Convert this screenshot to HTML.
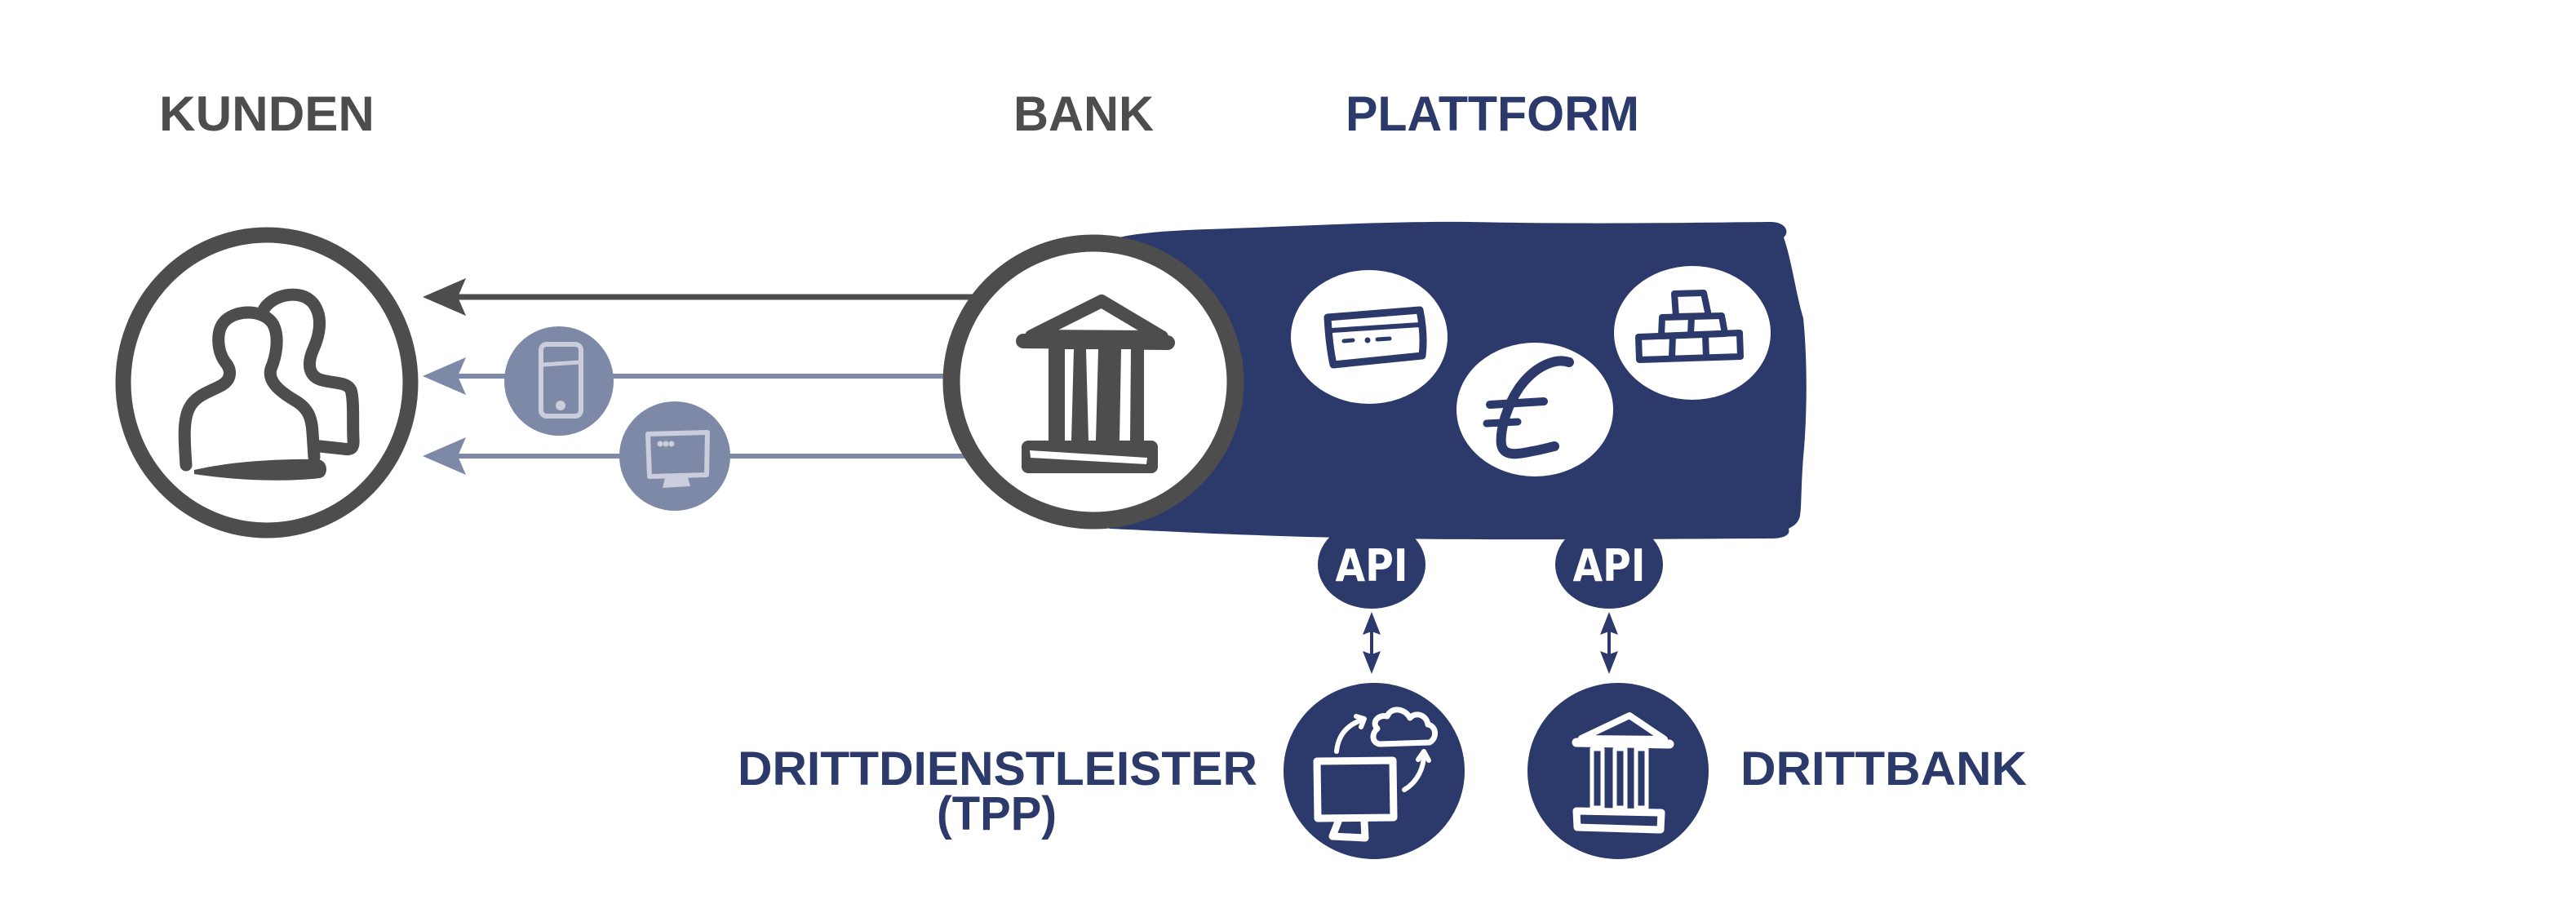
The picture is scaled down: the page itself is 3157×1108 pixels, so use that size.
<!DOCTYPE html>
<html>
<head>
<meta charset="utf-8">
<style>
  html, body { margin: 0; padding: 0; background: #ffffff; }
  body { width: 3157px; height: 1108px; overflow: hidden; }
  svg { display: block; }
  .lbl { font-family: "Liberation Sans", "DejaVu Sans", sans-serif; font-weight: 700; }
</style>
</head>
<body>
<svg width="3157" height="1108" viewBox="0 0 3157 1108" xmlns="http://www.w3.org/2000/svg">
  <rect width="3157" height="1108" fill="#ffffff"/>

  <!-- Headings -->
  <text class="lbl" x="195" y="160" font-size="60" fill="#4d4d4d" textLength="264" lengthAdjust="spacingAndGlyphs">KUNDEN</text>
  <text class="lbl" x="1242" y="160" font-size="60" fill="#4d4d4d" textLength="172" lengthAdjust="spacingAndGlyphs">BANK</text>
  <text class="lbl" x="1649" y="160" font-size="60" fill="#2c3a6b" textLength="360" lengthAdjust="spacingAndGlyphs">PLATTFORM</text>

  <!-- Arrows from bank to customers -->
  <line x1="560" y1="364" x2="1200" y2="364" stroke="#4d4d4d" stroke-width="7"/>
  <polygon points="518,364 571,341 561,364 571,387" fill="#4d4d4d"/>
  <line x1="560" y1="461" x2="1200" y2="461" stroke="#7e88a7" stroke-width="6"/>
  <polygon points="518,461 571,438 561,461 571,484" fill="#7e88a7"/>
  <line x1="560" y1="559" x2="1200" y2="559" stroke="#7e88a7" stroke-width="6"/>
  <polygon points="518,559 571,536 561,559 571,582" fill="#7e88a7"/>

  <!-- Phone bubble -->
  <ellipse cx="685" cy="467" rx="67" ry="67" fill="#7e88a7"/>
  <rect x="663" y="422" width="49" height="88" rx="7" fill="none" stroke="#c9cddc" stroke-width="6"/>
  <line x1="665" y1="447" x2="710" y2="444" stroke="#c9cddc" stroke-width="5"/>
  <circle cx="687" cy="497" r="6" fill="#c9cddc"/>

  <!-- Monitor bubble -->
  <ellipse cx="827" cy="559" rx="68" ry="67" fill="#7e88a7"/>
  <path d="M794 532 L867 530 L866 582 L796 584 Z" fill="none" stroke="#c9cddc" stroke-width="6" stroke-linejoin="round"/>
  <circle cx="809" cy="544" r="3.5" fill="#c9cddc"/>
  <circle cx="816" cy="544" r="3.5" fill="#c9cddc"/>
  <circle cx="823" cy="544" r="3.5" fill="#c9cddc"/>
  <polygon points="815,585 843,585 846,596 812,598" fill="#c9cddc"/>

  <!-- Kunden circle -->
  <ellipse cx="327" cy="469" rx="176" ry="181" fill="#ffffff" stroke="#4d4d4d" stroke-width="19"/>
  <!-- persons -->
  <g fill="none" stroke="#4d4d4d" stroke-width="15" stroke-linecap="round" stroke-linejoin="round">
    <path d="M322 382 C330 362 368 352 384 372 C396 388 392 410 384 428 C376 446 378 462 395 466 C410 470 425 468 430 478 C434 490 432 520 433 538 C434 550 430 552 420 550 L392 547"/>
    <path d="M228 570 C226 540 224 515 232 500 C240 484 258 480 272 472 C285 464 283 452 276 444 C266 430 264 405 276 393 C292 378 325 380 335 398 C343 414 338 438 332 452 C328 466 340 478 360 490 C378 500 382 512 383 530 L385 560"/>
  </g>
  <path d="M238 576 C280 566 340 562 390 563 C403 565 403 584 392 586 C350 591 290 589 238 581 Z" fill="#4d4d4d"/>

  <!-- Platform navy block -->
  <path d="M1345 300 C1370 287 1420 283 1480 281 C1600 277 1700 271 1800 272 C1950 275 2050 273 2170 272 C2188 272 2194 284 2186 291 C2196 320 2201 360 2210 390 C2216 450 2214 520 2210 560 C2207 600 2208 620 2206 632 C2204 642 2197 645 2192 648 C2195 656 2185 660 2170 660 C2000 661 1800 662 1700 660 C1550 658 1450 652 1360 648 L1345 640 Z" fill="#2c3a6b"/>

  <!-- API bubbles -->
  <ellipse cx="1681" cy="692" rx="66" ry="54" fill="#2c3a6b"/>
  <ellipse cx="1972" cy="692" rx="66" ry="54" fill="#2c3a6b"/>
  <text x="1681" y="712" font-family="'DejaVu Sans', 'Liberation Sans', sans-serif" font-weight="700" font-size="54" fill="#ffffff" text-anchor="middle" textLength="89" lengthAdjust="spacingAndGlyphs">API</text>
  <text x="1972" y="712" font-family="'DejaVu Sans', 'Liberation Sans', sans-serif" font-weight="700" font-size="54" fill="#ffffff" text-anchor="middle" textLength="89" lengthAdjust="spacingAndGlyphs">API</text>

  <!-- White blobs on platform -->
  <ellipse cx="1678" cy="413" rx="96" ry="82" fill="#ffffff"/>
  <ellipse cx="1881" cy="502" rx="96" ry="82" fill="#ffffff"/>
  <ellipse cx="2074" cy="408" rx="96" ry="82" fill="#ffffff"/>

  <!-- Card icon -->
  <path d="M1627 389 L1740 380 C1744 400 1745 420 1743 436 L1634 447 C1630 428 1628 408 1627 389 Z" fill="none" stroke="#2c3a6b" stroke-width="9" stroke-linejoin="round"/>
  <line x1="1632" y1="405" x2="1740" y2="398" stroke="#2c3a6b" stroke-width="6"/>
  <line x1="1647" y1="418" x2="1658" y2="417" stroke="#2c3a6b" stroke-width="5" stroke-linecap="round"/>
  <circle cx="1676" cy="417" r="3.5" fill="#2c3a6b"/>
  <line x1="1688" y1="416" x2="1703" y2="415" stroke="#2c3a6b" stroke-width="5" stroke-linecap="round"/>

  <!-- Euro icon -->
  <path d="M1923 444 C1905 438 1880 450 1862 475 C1845 500 1838 530 1840 545 C1843 560 1860 557 1878 553 C1890 551 1900 548 1905 547" fill="none" stroke="#2c3a6b" stroke-width="12" stroke-linecap="round"/>
  <line x1="1826" y1="496" x2="1892" y2="492" stroke="#2c3a6b" stroke-width="10" stroke-linecap="round"/>
  <line x1="1822" y1="519" x2="1860" y2="517" stroke="#2c3a6b" stroke-width="9" stroke-linecap="round"/>

  <!-- Blocks icon -->
  <g fill="none" stroke="#2c3a6b" stroke-width="8" stroke-linejoin="round">
    <path d="M2008 413 L2132 408 L2133 437 L2009 441 Z"/>
    <line x1="2050" y1="411" x2="2049" y2="439"/>
    <line x1="2090" y1="410" x2="2091" y2="438"/>
    <path d="M2037 389 L2110 387 L2114 409 L2036 412 Z"/>
    <line x1="2073" y1="388" x2="2072" y2="410"/>
    <path d="M2052 360 L2088 359 L2094 387 L2054 388 Z"/>
  </g>

  <!-- Bank circle -->
  <ellipse cx="1340" cy="468" rx="174" ry="170" fill="#ffffff" stroke="#4d4d4d" stroke-width="21"/>
  <!-- bank icon -->
  <path d="M1264 412 L1350 369 L1424 413 Z" fill="none" stroke="#4d4d4d" stroke-width="16" stroke-linejoin="round"/>
  <line x1="1254" y1="418" x2="1431" y2="420" stroke="#4d4d4d" stroke-width="18" stroke-linecap="round"/>
  <rect x="1285" y="424" width="117" height="120" fill="#4d4d4d"/>
  <polygon points="1305,428 1316,428 1313,540 1305,540" fill="#ffffff"/>
  <polygon points="1331,428 1346,428 1343,540 1334,540" fill="#ffffff"/>
  <polygon points="1374,428 1386,428 1385,540 1372,540" fill="#ffffff"/>
  <rect x="1252" y="540" width="167" height="40" rx="8" fill="#4d4d4d"/>
  <polygon points="1262,552 1406,561 1405,569 1263,561" fill="#ffffff"/>

  <!-- Double arrows -->
  <line x1="1681" y1="770" x2="1681" y2="806" stroke="#2c3a6b" stroke-width="4"/>
  <polygon points="1681,750 1692,778 1681,774 1670,778" fill="#2c3a6b"/>
  <polygon points="1681,826 1692,798 1681,802 1670,798" fill="#2c3a6b"/>
  <line x1="1972" y1="770" x2="1972" y2="806" stroke="#2c3a6b" stroke-width="4"/>
  <polygon points="1972,750 1983,778 1972,774 1961,778" fill="#2c3a6b"/>
  <polygon points="1972,826 1983,798 1972,802 1961,798" fill="#2c3a6b"/>

  <!-- TPP circle -->
  <ellipse cx="1684" cy="945" rx="111" ry="108" fill="#2c3a6b"/>
  <g fill="none" stroke="#ffffff" stroke-width="9" stroke-linecap="round" stroke-linejoin="round">
    <path d="M1614 933 L1707 932 L1708 1002 L1615 1003 Z"/>
    <path d="M1640 1007 L1633 1025 L1673 1027 L1672 1007"/>
    <path d="M1691 912 L1752 910 C1762 904 1760 890 1750 888 C1748 876 1735 872 1728 880 C1722 868 1705 866 1700 878 C1690 875 1680 885 1688 893 C1680 900 1682 911 1691 912 Z" stroke-width="7"/>
    <path d="M1638 921 C1640 900 1652 888 1670 882" stroke-width="6"/>
    <path d="M1662 878 L1672 881 L1668 891" stroke-width="6"/>
    <path d="M1721 968 C1738 958 1745 940 1745 925" stroke-width="6"/>
    <path d="M1738 931 L1745 921 L1751 932" stroke-width="6"/>
  </g>

  <!-- Drittbank circle -->
  <ellipse cx="1983" cy="945" rx="111" ry="108" fill="#2c3a6b"/>
  <g fill="none" stroke="#ffffff" stroke-linecap="round" stroke-linejoin="round">
    <path d="M1938 905 L1997 877 L2040 906 Z" stroke-width="8"/>
    <line x1="1932" y1="910" x2="2046" y2="912" stroke-width="11"/>
    <rect x="1951" y="918" width="13" height="72" stroke-width="5"/>
    <rect x="1979" y="918" width="13" height="72" stroke-width="5"/>
    <rect x="2005" y="918" width="13" height="72" stroke-width="5"/>
    <path d="M1932 994 L2036 996 L2035 1017 L1933 1014 Z" stroke-width="9"/>
  </g>

  <!-- Bottom labels -->
  <text class="lbl" x="904" y="962" font-size="58" fill="#2c3a6b" textLength="637" lengthAdjust="spacingAndGlyphs">DRITTDIENSTLEISTER</text>
  <text class="lbl" x="1148" y="1017" font-size="58" fill="#2c3a6b" textLength="147" lengthAdjust="spacingAndGlyphs">(TPP)</text>
  <text class="lbl" x="2133" y="962" font-size="58" fill="#2c3a6b" textLength="351" lengthAdjust="spacingAndGlyphs">DRITTBANK</text>
</svg>
</body>
</html>
